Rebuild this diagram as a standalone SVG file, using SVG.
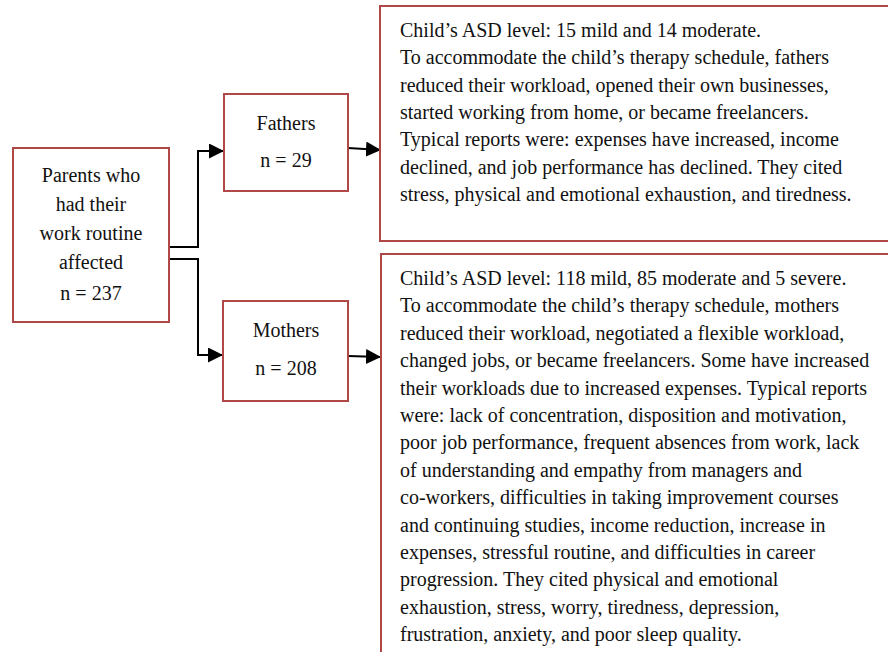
<svg xmlns="http://www.w3.org/2000/svg" width="888" height="652" viewBox="0 0 888 652">
<style>
.box{fill:#fff;stroke:#b04848;stroke-width:2}
.t{font-family:"Liberation Serif","Times New Roman",serif;font-size:20px;fill:#111}
.c{text-anchor:middle}
.ln{fill:none;stroke:#000;stroke-width:2}
</style>
<defs>
<marker id="ah" viewBox="0 0 10 10" refX="10" refY="5" markerWidth="7.5" markerHeight="7.5" markerUnits="strokeWidth" orient="auto">
<path d="M0,0 L10,5 L0,10 z" fill="#000"/>
</marker>
</defs>
<rect width="888" height="652" fill="#fff"/>
<g id="connectors">
<path class="ln" d="M169,247 H198 V151 H224" marker-end="url(#ah)"/>
<path class="ln" d="M169,259 H198 V355 H223" marker-end="url(#ah)"/>
<path class="ln" d="M348,148 L381,150" marker-end="url(#ah)"/>
<path class="ln" d="M348,356 L381,357" marker-end="url(#ah)"/>
</g>
<g id="parents">
<rect class="box" x="13" y="148" width="156" height="174"/>
<text class="t c" x="91" y="182">Parents who</text>
<text class="t c" x="91" y="211">had their</text>
<text class="t c" x="91" y="240">work routine</text>
<text class="t c" x="91" y="269">affected</text>
<text class="t c" x="91" y="300">n = 237</text>
</g>
<g id="fathers">
<rect class="box" x="224" y="94" width="124" height="97"/>
<text class="t c" x="286" y="130">Fathers</text>
<text class="t c" x="286" y="167">n = 29</text>
</g>
<g id="mothers">
<rect class="box" x="223" y="301" width="125" height="100"/>
<text class="t c" x="286" y="337">Mothers</text>
<text class="t c" x="286" y="375">n = 208</text>
</g>
<g id="fathers-details">
<rect class="box" x="380" y="6" width="520" height="235"/>
<text class="t" x="400" y="37">Child’s ASD level: 15 mild and 14 moderate.</text>
<text class="t" x="400" y="64">To accommodate the child’s therapy schedule, fathers</text>
<text class="t" x="400" y="92">reduced their workload, opened their own businesses,</text>
<text class="t" x="400" y="119">started working from home, or became freelancers.</text>
<text class="t" x="400" y="146">Typical reports were: expenses have increased, income</text>
<text class="t" x="400" y="174">declined, and job performance has declined. They cited</text>
<text class="t" x="400" y="201">stress, physical and emotional exhaustion, and tiredness.</text>
</g>
<g id="mothers-details">
<rect class="box" x="381" y="254" width="520" height="420"/>
<text class="t" x="400" y="285">Child’s ASD level: 118 mild, 85 moderate and 5 severe.</text>
<text class="t" x="400" y="312">To accommodate the child’s therapy schedule, mothers</text>
<text class="t" x="400" y="340">reduced their workload, negotiated a flexible workload,</text>
<text class="t" x="400" y="367">changed jobs, or became freelancers. Some have increased</text>
<text class="t" x="400" y="395">their workloads due to increased expenses. Typical reports</text>
<text class="t" x="400" y="422">were: lack of concentration, disposition and motivation,</text>
<text class="t" x="400" y="449">poor job performance, frequent absences from work, lack</text>
<text class="t" x="400" y="477">of understanding and empathy from managers and</text>
<text class="t" x="400" y="504">co-workers, difficulties in taking improvement courses</text>
<text class="t" x="400" y="532">and continuing studies, income reduction, increase in</text>
<text class="t" x="400" y="559">expenses, stressful routine, and difficulties in career</text>
<text class="t" x="400" y="586">progression. They cited physical and emotional</text>
<text class="t" x="400" y="614">exhaustion, stress, worry, tiredness, depression,</text>
<text class="t" x="400" y="641">frustration, anxiety, and poor sleep quality.</text>
</g>
</svg>
